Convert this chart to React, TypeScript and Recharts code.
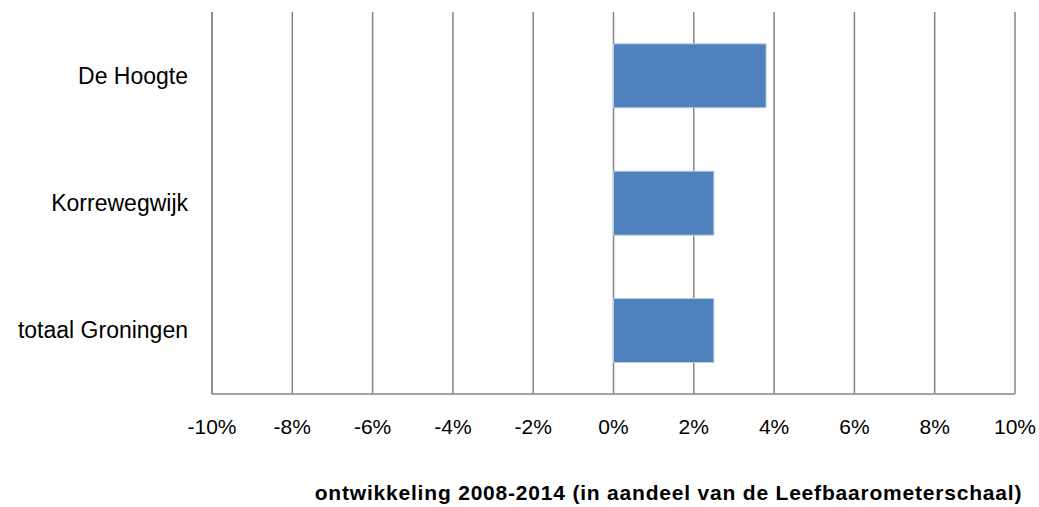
import { BarChart, Bar, XAxis, YAxis, CartesianGrid, Label } from 'recharts';

const categories = ['De Hoogte', 'Korrewegwijk', 'totaal Groningen'];
const changeValues = [3.8, 2.5, 2.5];
const xTicks = [-10, -8, -6, -4, -2, 0, 2, 4, 6, 8, 10];
const axisTitle = 'ontwikkeling 2008-2014 (in aandeel van de Leefbaarometerschaal)';

const data = categories.map((name, i) => ({ name, value: changeValues[i] }));

const GRID = '#868686';
const FONT = "'Liberation Sans', Arial, sans-serif";

export default function App() {
  return (
    <div style={{ position: 'absolute', left: 0, top: 0, background: '#fff' }}>
      <BarChart
        width={1039}
        height={507}
        data={data}
        layout="vertical"
        margin={{ top: 12, right: 24, bottom: 0, left: 0 }}
        barCategoryGap="25%"
      >
        <CartesianGrid horizontal={false} stroke={GRID} strokeWidth={1.5} />
        <XAxis
          type="number"
          domain={[-10, 10]}
          ticks={xTicks}
          interval={0}
          tickFormatter={(v) => `${v}%`}
          axisLine={{ stroke: GRID, strokeWidth: 1.5 }}
          tickLine={false}
          tickMargin={19}
          height={113}
          tick={{ fill: '#000', fontSize: 21, fontFamily: FONT }}
        >
          <Label
            content={({ viewBox }: any) => (
              <text
                x={viewBox.x + viewBox.width / 2 + 55}
                y={500}
                textAnchor="middle"
                fill="#000"
                fontSize={21}
                letterSpacing={0.8}
                fontWeight="bold"
                fontFamily={FONT}
              >
                {axisTitle}
              </text>
            )}
          />
        </XAxis>
        <YAxis
          type="category"
          dataKey="name"
          width={212}
          axisLine={{ stroke: GRID, strokeWidth: 1.5 }}
          tickLine={false}
          tickMargin={18}
          tick={{ fill: '#000', fontSize: 23, fontFamily: FONT }}
        />
        <Bar
          dataKey="value"
          fill="#4F81BD"
          stroke="#B9CDE5"
          strokeWidth={1}
          isAnimationActive={false}
        />
      </BarChart>
    </div>
  );
}
